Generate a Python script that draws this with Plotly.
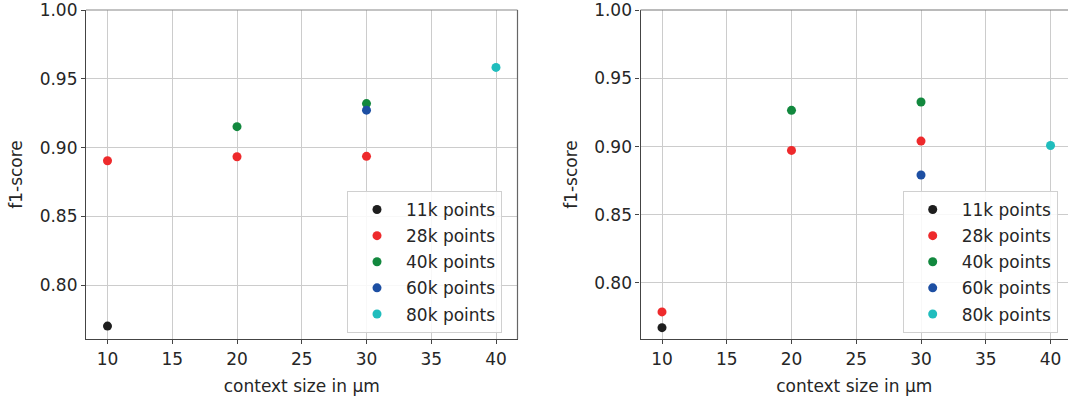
import plotly.graph_objects as go

W, H = 1068, 398

series_names = ["11k points", "28k points", "40k points", "60k points", "80k points"]
series_colors = ["#1e1e1e", "#ee2a2c", "#12883e", "#1d4fa3", "#20bdbd"]

# left panel
left_x = {
    "11k points": [10],
    "28k points": [10, 20, 30],
    "40k points": [20, 30],
    "60k points": [30],
    "80k points": [40],
}
left_y = {
    "11k points": [0.7702],
    "28k points": [0.8905, 0.8934, 0.8937],
    "40k points": [0.9153, 0.9321],
    "60k points": [0.9273],
    "80k points": [0.9584],
}
# right panel
right_x = {
    "11k points": [10],
    "28k points": [10, 20, 30],
    "40k points": [20, 30],
    "60k points": [30],
    "80k points": [40],
}
right_y = {
    "11k points": [0.7671],
    "28k points": [0.7787, 0.8972, 0.9040],
    "40k points": [0.9266, 0.9327],
    "60k points": [0.8791],
    "80k points": [0.9008],
}

x_ticks = [10, 15, 20, 25, 30, 35, 40]
y_ticks = [0.80, 0.85, 0.90, 0.95, 1.00]
y_tick_text = ["0.80", "0.85", "0.90", "0.95", "1.00"]

FONT = "DejaVu Sans"
TXT = "#262626"

fig = go.Figure()
for name, col in zip(series_names, series_colors):
    fig.add_trace(go.Scatter(x=left_x[name], y=left_y[name], mode="markers", name=name,
                             marker=dict(size=9, color=col), xaxis="x", yaxis="y",
                             legend="legend", legendgroup="a" + name))
for name, col in zip(series_names, series_colors):
    fig.add_trace(go.Scatter(x=right_x[name], y=right_y[name], mode="markers", name=name,
                             marker=dict(size=9, color=col), xaxis="x2", yaxis="y2",
                             legend="legend2", legendgroup="b" + name))

top, bot = 10, 59
ph = H - top - bot
L1, R1 = 86 / W, 517.5 / W
L2, R2 = 640.5 / W, 1.0

axis_common = dict(
    showgrid=True, gridcolor="#cccccc", gridwidth=1,
    showline=True, linecolor="#444444", linewidth=1.2,
    ticks="outside", ticklen=4, tickwidth=1, tickcolor="#444444",
    tickfont=dict(family=FONT, size=17, color=TXT),
    zeroline=False,
)
xa = dict(axis_common, tickvals=x_ticks, title=dict(text="context size in μm", font=dict(family=FONT, size=17, color=TXT), standoff=12))
ya = dict(axis_common, tickvals=y_ticks, ticktext=y_tick_text, title=dict(text="f1-score", font=dict(family=FONT, size=17, color=TXT), standoff=12))

legend_common = dict(
    bgcolor="rgba(255,255,255,0.85)", bordercolor="#d0d0d0", borderwidth=1,
    font=dict(family=FONT, size=17, color=TXT),
    xanchor="right", yanchor="bottom", itemwidth=48, tracegroupgap=1,
)

leg_y = (H - bot - 333) / ph

fig.update_layout(
    width=W, height=H,
    margin=dict(l=0, r=0, t=top, b=bot),
    paper_bgcolor="white", plot_bgcolor="white",
    xaxis=dict(xa, domain=[L1, R1], range=[8.34, 41.66], anchor="y"),
    yaxis=dict(ya, domain=[0, 1], range=[0.7608, 1.0002], anchor="x"),
    xaxis2=dict(xa, domain=[L2, R2], range=[8.34, 41.35], anchor="y2"),
    yaxis2=dict(ya, domain=[0, 1], range=[0.7588, 1.0002], anchor="x2"),
    legend=dict(legend_common, x=502 / W, y=leg_y),
    legend2=dict(legend_common, x=1057.7 / W, y=leg_y),
    showlegend=True,
    shapes=[
        dict(type="line", xref="x domain", yref="y domain", x0=0, x1=1, y0=1, y1=1,
             line=dict(color="#888888", width=1.2)),
        dict(type="line", xref="x domain", yref="y domain", x0=1, x1=1, y0=0, y1=1,
             line=dict(color="#666666", width=1.2)),
        dict(type="line", xref="x2 domain", yref="y2 domain", x0=0, x1=1, y0=1, y1=1,
             line=dict(color="#777777", width=1.2)),
    ],
)

fig.write_html("out.html")
